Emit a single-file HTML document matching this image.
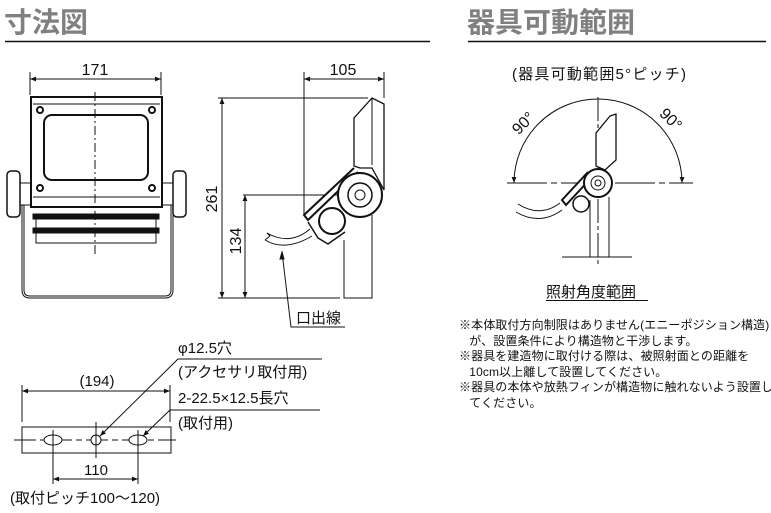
<!DOCTYPE html>
<html><head><meta charset="utf-8"><style>
body{margin:0;background:#fff;width:771px;height:513px;overflow:hidden;font-family:"Liberation Sans","Noto Sans CJK JP",sans-serif}
svg{position:absolute;left:0;top:0}
.t{font-family:"Liberation Sans","Noto Sans CJK JP",sans-serif;fill:#111}
.n{position:absolute;left:459px;font-size:12px;line-height:15.6px;color:#111;white-space:nowrap;top:318px;letter-spacing:0.1px}
</style></head><body>
<svg width="771" height="513" viewBox="0 0 771 513">
<defs><marker id="a" viewBox="0 0 10 10" refX="10" refY="5" markerWidth="8" markerHeight="6" orient="auto-start-reverse"><path d="M0,1L10,5L0,9z" fill="#111"/></marker></defs>
<g class="t">
<text x="4" y="32" font-size="28" font-weight="bold" style="fill:#808080">寸法図</text>
<text x="467" y="32" font-size="28" font-weight="bold" style="fill:#808080">器具可動範囲</text>
</g>
<line x1="5" y1="41.5" x2="430" y2="41.5" stroke="#111" stroke-width="1.5"/>
<line x1="468" y1="41.5" x2="766" y2="41.5" stroke="#111" stroke-width="1.5"/>

<g stroke="#111" fill="none" stroke-width="1">
<!-- front view -->
<line x1="30" y1="72" x2="30" y2="95"/><line x1="161" y1="72" x2="161" y2="95"/>
<line x1="30" y1="79" x2="161" y2="79" marker-start="url(#a)" marker-end="url(#a)"/>
<rect x="31" y="97" width="131" height="110" stroke-width="2"/>
<line x1="33" y1="104" x2="160" y2="104"/>
<rect x="44" y="115" width="104" height="65" rx="8" stroke-width="2"/>
<circle cx="40" cy="110" r="3" stroke-width="2"/><circle cx="152" cy="110" r="3" stroke-width="2"/>
<circle cx="40" cy="188" r="3" stroke-width="2"/><circle cx="152" cy="188" r="3" stroke-width="2"/>
<line x1="33" y1="197" x2="160" y2="197"/>
<rect x="7" y="171" width="13" height="46" rx="4" stroke-width="1.5"/><rect x="173" y="171" width="13" height="46" rx="4" stroke-width="1.5"/>
<rect x="20" y="183" width="11" height="22"/><rect x="162" y="183" width="11" height="22"/>
<rect x="33" y="214" width="126" height="5" fill="#111"/>
<rect x="33" y="228" width="126" height="5" fill="#111"/>
<rect x="36" y="219" width="120" height="24"/>
<path d="M22,205 V290 Q22,298 30,298 H165 Q173,298 173,290 V205"/>
<path d="M24,205 V290 Q24,296 30,296 H165 Q171,296 171,290 V205"/>
<line x1="95" y1="92" x2="95" y2="255" stroke-dasharray="9,3,2,3"/>

<!-- side view -->
<line x1="304" y1="72" x2="304" y2="215"/><line x1="384" y1="72" x2="384" y2="98"/>
<line x1="304" y1="79" x2="384" y2="79" marker-start="url(#a)" marker-end="url(#a)"/>
<line x1="218" y1="98" x2="368" y2="98"/>
<line x1="222" y1="98" x2="222" y2="298" marker-start="url(#a)" marker-end="url(#a)"/>
<line x1="243" y1="195" x2="340" y2="195"/>
<line x1="245" y1="195" x2="245" y2="298" marker-start="url(#a)" marker-end="url(#a)"/>
<line x1="218" y1="298" x2="340" y2="298"/>
<path d="M344,240 V298 H372 V215"/>
<path d="M372,98 L384,104 V190 L372,168 L360,168 L354,166 L354,118 Z" fill="#fff" stroke-width="1.3"/>
<path d="M372,98 L372,165"/>
<path d="M354,168 L304,215 L308,220 L358,172" fill="#fff" stroke-width="2"/>
<circle cx="360" cy="195" r="22" fill="#fff" stroke-width="2"/>
<circle cx="360" cy="195" r="12" stroke-width="1.5"/><circle cx="360" cy="195" r="5"/>
<circle cx="332" cy="221" r="13" fill="#fff" stroke-width="2"/>
<path d="M308,222 L318,238 L328,244 L345,232" stroke-width="1.5"/>
<path d="M265,240 Q285,252 312,236"/><path d="M267,233 Q290,246 310,229"/>
<path d="M265,240 L270,236 L267,233"/>
<polyline points="282,252 291,327 345,327"/>
<path d="M282,252 l-2,7 l4,0z" fill="#111"/>

<!-- range -->
<path d="M514,183 A84,84 0 0 1 682,183" marker-start="url(#a)" marker-end="url(#a)"/>
<line x1="507" y1="183" x2="693" y2="183" stroke-dasharray="40,4,6,4"/>
<line x1="598" y1="97" x2="598" y2="265" stroke-dasharray="24,3,4,3"/>
<path d="M590,200 V257 M609,197 V257"/>
<line x1="562" y1="257" x2="632" y2="257"/>
<path d="M610,116 L616,114 V160 L605,170 L596,166 V133 Z" fill="#fff" stroke-width="1.3"/>
<path d="M588,172 L562,200 L566,205 L592,177" fill="#fff" stroke-width="2"/>
<circle cx="598" cy="183" r="14" fill="#fff" stroke-width="2"/>
<circle cx="598" cy="183" r="7"/><circle cx="598" cy="183" r="3"/>
<circle cx="581" cy="204" r="8" fill="#fff" stroke-width="1.5"/>
<path d="M516,212 Q540,226 562,210 M518,204 Q540,218 560,203"/>

<!-- bottom -->
<line x1="22" y1="385" x2="22" y2="422"/><line x1="170" y1="385" x2="170" y2="422"/>
<line x1="22" y1="391" x2="170" y2="391" marker-start="url(#a)" marker-end="url(#a)"/>
<rect x="22" y="427" width="149" height="26"/>
<line x1="14" y1="440" x2="176" y2="440" stroke-dasharray="22,4,6,4"/>
<ellipse cx="53" cy="440" rx="9" ry="5" fill="#fff"/>
<ellipse cx="138" cy="440" rx="9" ry="5" fill="#fff"/>
<circle cx="96" cy="440" r="5" fill="#fff"/>
<line x1="53" y1="430" x2="53" y2="484"/><line x1="138" y1="430" x2="138" y2="484"/>
<line x1="96" y1="422" x2="96" y2="458"/>
<line x1="53" y1="479" x2="138" y2="479" marker-start="url(#a)" marker-end="url(#a)"/>
<line x1="322" y1="359" x2="178" y2="359"/>
<line x1="178" y1="359" x2="100" y2="436" marker-end="url(#a)"/>
<line x1="320" y1="410" x2="170" y2="410"/>
<line x1="170" y1="410" x2="143" y2="436" marker-end="url(#a)"/>
</g>

<g class="t" font-size="15">
<text x="95" y="75" text-anchor="middle" font-size="16">171</text>
<text x="343" y="75" text-anchor="middle" font-size="16">105</text>
<text transform="translate(217,199) rotate(-90)" text-anchor="middle" font-size="16">261</text>
<text transform="translate(241,241) rotate(-90)" text-anchor="middle" font-size="16">134</text>
<text x="296" y="323" font-size="15">口出線</text>
<text x="512" y="79" font-size="15" textLength="174" lengthAdjust="spacing">(器具可動範囲5°ピッチ)</text>
<text transform="translate(527,127) rotate(-45)" font-size="16" text-anchor="middle">90°</text>
<text transform="translate(667,123) rotate(45)" font-size="16" text-anchor="middle">90°</text>
<text x="546" y="297" font-size="15">照射角度範囲</text>
<text x="97" y="386" text-anchor="middle">(194)</text>
<text x="96" y="475" text-anchor="middle">110</text>
<text x="10" y="503">(取付ピッチ100〜120)</text>
<text x="178" y="353">φ12.5穴</text>
<text x="178" y="377">(アクセサリ取付用)</text>
<text x="178" y="403">2-22.5×12.5長穴</text>
<text x="178" y="428">(取付用)</text>
</g>
<line x1="546" y1="300.5" x2="648" y2="300.5" stroke="#111"/>
</svg>
<div class="n">※本体取付方向制限はありません(エニーポジション構造)<br>&nbsp;&nbsp;&nbsp;が、設置条件により構造物と干渉します。<br>※器具を建造物に取付ける際は、被照射面との距離を<br>&nbsp;&nbsp;&nbsp;10cm以上離して設置してください。<br>※器具の本体や放熱フィンが構造物に触れないよう設置し<br>&nbsp;&nbsp;&nbsp;てください。</div>
</body></html>
